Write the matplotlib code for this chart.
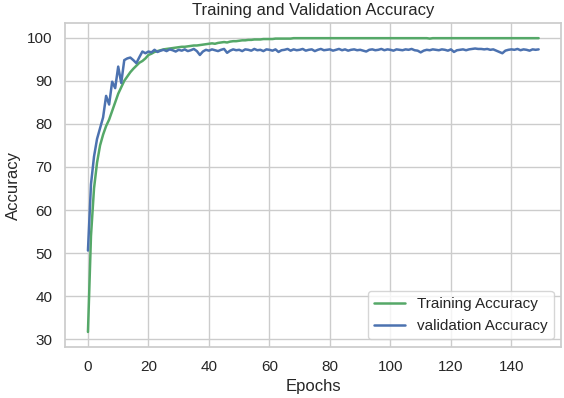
"""
Training / validation accuracy curves
"""

import numpy as np
import seaborn as sns
from matplotlib import pyplot as plt

# values, one per epoch
trainAcc = [31.7, 54.0, 65.0, 71.0, 75.0, 77.5, 79.5, 81.0, 83.0, 85.0,
            87.0, 88.5, 90.0, 91.0, 92.0, 92.8, 93.5, 94.2, 94.6, 95.2,
            96.0, 96.3, 96.7, 96.9, 97.1, 97.3, 97.4, 97.5, 97.6, 97.7,
            97.8, 97.9, 97.9, 98.0, 98.1, 98.2, 98.2, 98.3, 98.4, 98.5,
            98.6, 98.7, 98.6, 98.8, 98.9, 99.0, 98.9, 99.1, 99.2, 99.2,
            99.3, 99.4, 99.4, 99.5, 99.5, 99.6, 99.6, 99.6, 99.7, 99.7,
            99.7, 99.7, 99.8, 99.8, 99.8, 99.8, 99.8, 99.8, 99.9, 99.9,
            99.9, 99.9, 99.9, 99.9, 99.9, 99.9, 99.9, 99.9, 99.9, 99.9,
            99.9, 99.9, 99.9, 99.9, 99.9, 99.9, 99.9, 99.9, 99.9, 99.9,
            99.9, 99.9, 99.9, 99.9, 99.9, 99.9, 99.9, 99.9, 99.9, 99.9,
            99.9, 99.9, 99.9, 99.9, 99.9, 99.9, 99.9, 99.9, 99.9, 99.9,
            99.9, 99.9, 99.9, 99.8, 99.9, 99.9, 99.9, 99.9, 99.9, 99.9,
            99.9, 99.9, 99.9, 99.9, 99.9, 99.9, 99.9, 99.9, 99.9, 99.9,
            99.9, 99.9, 99.9, 99.9, 99.9, 99.9, 99.9, 99.9, 99.9, 99.9,
            99.9, 99.9, 99.9, 99.9, 99.9, 99.9, 99.9, 99.9, 99.9, 99.9]

valAcc = [50.6, 66.0, 72.4, 76.5, 79.0, 81.5, 86.5, 84.5, 89.8, 88.3,
          93.3, 89.5, 94.8, 95.2, 95.4, 94.8, 94.1, 95.5, 96.8, 96.4,
          96.8, 96.6, 97.2, 96.7, 97.0, 97.2, 96.9, 97.3, 97.1, 96.8,
          97.2, 97.0, 97.3, 96.9, 97.1, 97.4, 96.9, 96.0, 96.8, 97.2,
          97.0, 97.3, 97.1, 96.9, 97.2, 97.4, 96.5, 97.0, 97.3, 97.1,
          97.2, 96.9, 97.3, 97.2, 97.0, 97.4, 97.1, 97.2, 96.9, 97.3,
          97.2, 97.0, 97.3, 96.7, 97.1, 97.2, 97.4, 97.0, 97.3, 97.1,
          97.2, 97.4, 97.0, 97.2, 97.3, 96.9, 97.2, 97.4, 97.1, 97.2,
          97.3, 97.0, 97.2, 97.4, 97.1, 97.3, 97.0, 97.2, 97.3, 97.1,
          97.2, 97.0, 96.8, 97.2, 97.3, 97.1, 97.2, 97.4, 97.1, 97.3,
          97.2, 97.0, 97.3, 97.2, 97.1, 97.3, 97.2, 97.4, 97.1, 97.0,
          96.6, 97.0, 97.2, 97.1, 97.3, 97.2, 97.1, 97.3, 97.2, 97.0,
          97.3, 96.7, 97.1, 97.2, 97.3, 97.1, 97.3, 97.4, 97.5, 97.4,
          97.4, 97.3, 97.4, 97.2, 97.3, 97.0, 96.7, 96.4, 97.0, 97.2,
          97.3, 97.2, 97.4, 97.1, 97.3, 97.2, 97.0, 97.3, 97.2, 97.3]

epochs = np.arange(len(trainAcc))

sns.set_theme(style="whitegrid", color_codes=True)
plt.rcParams['font.family'] = ['Liberation Sans', 'DejaVu Sans']

fig, ax = plt.subplots(figsize=(5.64, 3.98), dpi=100)
ax.plot(epochs, trainAcc, "g", lw=1.8, label="Training Accuracy")
ax.plot(epochs, valAcc, "b", lw=1.8, label="validation Accuracy")

ax.set_title("Training and Validation Accuracy")
ax.set_xlabel("Epochs")
ax.set_ylabel("Accuracy")
ax.legend(loc="lower right")

fig.subplots_adjust(left=0.116, right=0.995, top=0.941, bottom=0.129)
fig.savefig("out.png")
